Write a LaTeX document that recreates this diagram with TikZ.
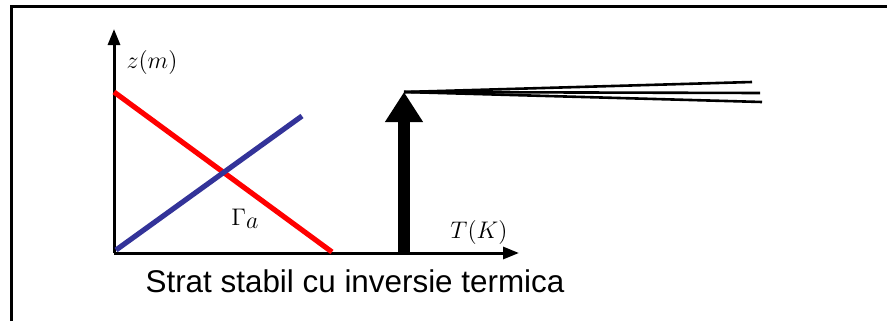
\documentclass[tikz,border=0pt]{standalone}
\usepackage{fontspec}
\setsansfont{Liberation Sans}
\usepackage{tikz}
\usetikzlibrary{arrows.meta, positioning}
\definecolor{ProfRed}{RGB}{255,0,0}
\definecolor{ProfBlue}{RGB}{51,51,153}

\begin{document}
\begin{tikzpicture}[x=0.5pt, y=-0.5pt,
          axis/.style={-{Triangle[length=8pt, width=6pt]}, line width=1.5pt},
          profile/.style={line width=2.6pt},
          plume/.style={line width=1.3pt},
          lbl/.style={font=\fontsize{13}{15}\selectfont, inner sep=0pt}
        ]
        \useasboundingbox (0,0) rectangle (887,321);

        % Frame (open to the right and below)
        \draw[line width=1.5pt] (11,321) -- (11,6) -- (887,6);

        % Axes
        \coordinate (O)    at (114,253);
        \coordinate (zTop) at (114,29);
        \coordinate (TEnd) at (519,253);
        \draw[axis] (O) -- (zTop);
        \draw[axis] (O) -- (TEnd);
        \node[lbl] (zlab) at (152,62)  {$z(m)$};
        \node[lbl] (Tlab) at (479,232) {$T(K)$};

        % Temperature profiles
        \coordinate (r1) at (114,92);
        \coordinate (r2) at (332,252);
        \coordinate (b1) at (116,250);
        \coordinate (b2) at (302,116);
        \draw[profile, ProfRed]  (r1) -- (r2);
        \draw[profile, ProfBlue] (b1) -- (b2);
        \node[lbl, anchor=base west] (gam) at (231,225) {$\Gamma_{\textstyle a}$};

        % Stack and plume
        \coordinate (s0) at (404,253);
        \coordinate (s1) at (404,92);
        \draw[line width=6pt, -{Triangle[length=15pt, width=18pt]}] (s0) -- (s1);
        \coordinate (p1) at (752,82);
        \coordinate (p2) at (760,93);
        \coordinate (p3) at (762,102);
        \foreach \p in {p1,p2,p3}
          \draw[plume] (s1) -- (\p);

        % Caption
        \node[font=\sffamily\fontsize{15.7}{18}\selectfont, anchor=base, inner sep=0pt]
              (cap) at (355,292) {Strat stabil cu inversie termica};
      \end{tikzpicture}
\end{document}
